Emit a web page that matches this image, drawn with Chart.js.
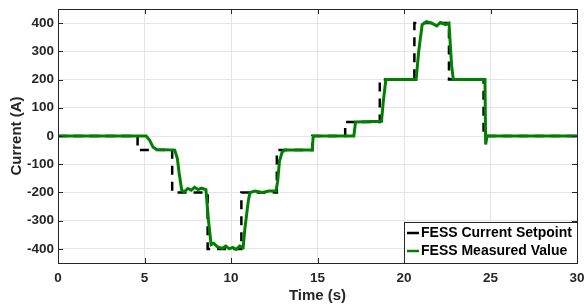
<!DOCTYPE html>
<html>
<head>
<meta charset="utf-8">
<script src="https://cdn.jsdelivr.net/npm/chart.js@4.4.1/dist/chart.umd.min.js"></script>
<style>
  html, body { margin:0; padding:0; background:#fff; }
  #wrap { width:584px; height:305px; position:relative; }
</style>
</head>
<body>
<div id="wrap"><canvas id="c"></canvas></div>
<script>
// ---- data ----
const xTicks = [0, 5, 10, 15, 20, 25, 30];
const yTicks = [-400, -300, -200, -100, 0, 100, 200, 300, 400];

// setpoint: time where each level starts, and the level
const setT = [0, 4.6, 6.6, 8.65, 10.6, 12.65, 14.7, 16.6, 18.6, 20.6, 22.6, 24.6, 30];
const setV = [0, -50, -200, -400, -200, -50, 0, 50, 200, 400, 200, 0, 0];

// measured current
const measT = [0, 5.1, 5.3, 5.5, 5.7, 6.75, 6.9, 7.0, 7.15, 7.3, 7.5, 7.7, 7.9, 8.1, 8.3, 8.55,
  8.7, 8.85, 9.0, 9.2, 9.5, 9.7, 9.9, 10.1, 10.3, 10.5, 10.7, 10.8, 11.0, 11.1, 11.4, 11.8, 12.2, 12.6,
  12.7, 12.8, 12.95, 13.1, 14.7, 14.75, 17.1, 17.2, 18.7, 18.8, 18.95, 20.7, 20.85, 21.05, 21.3,
  21.6, 21.9, 22.1, 22.4, 22.6, 22.75, 22.85, 24.68, 24.72, 24.8, 30];
const measV = [0, 0, -15, -40, -48, -50, -80, -130, -192, -198, -186, -192, -182, -190, -185, -190,
  -300, -385, -380, -392, -398, -390, -400, -395, -402, -390, -395, -330, -230, -200, -195, -200, -195, -195,
  -160, -90, -58, -50, -50, 0, 0, 50, 52, 120, 200, 200, 300, 395, 405,
  400, 390, 402, 395, 400, 250, 200, 200, -30, 0, 0];

const labels = ['FESS Current Setpoint', 'FESS Measured Value'];
const FONT = '"Liberation Sans", Arial, Helvetica, sans-serif';
const INK = '#262626';

const pts = (t, v) => t.map((x, i) => ({ x, y: v[i] }));

// inward tick marks on all four sides (MATLAB style)
const boxTicks = {
  id: 'boxTicks',
  afterDraw(chart) {
    const { ctx, chartArea: a, scales: { x, y } } = chart;
    ctx.save();
    ctx.strokeStyle = INK; ctx.lineWidth = 1;
    ctx.beginPath();
    xTicks.forEach(v => {
      const px = Math.round(x.getPixelForValue(v)) + 0.5;
      ctx.moveTo(px, a.bottom); ctx.lineTo(px, a.bottom - 5);
      ctx.moveTo(px, a.top); ctx.lineTo(px, a.top + 5);
    });
    yTicks.forEach(v => {
      const py = Math.round(y.getPixelForValue(v)) + 0.5;
      ctx.moveTo(a.left, py); ctx.lineTo(a.left + 5, py);
      ctx.moveTo(a.right, py); ctx.lineTo(a.right - 5, py);
    });
    ctx.stroke();
    ctx.strokeRect(Math.round(a.left) + 0.5, Math.round(a.top) + 0.5, Math.round(a.right - a.left), Math.round(a.bottom - a.top));
    ctx.restore();
  }
};

// legend box inside bottom-right corner
const boxLegend = {
  id: 'boxLegend',
  afterDraw(chart) {
    const { ctx, chartArea: a } = chart;
    const w = 173, h = 41;
    const x0 = Math.round(a.right) - w, y0 = Math.round(a.bottom) - h;
    ctx.save();
    ctx.fillStyle = '#fff';
    ctx.fillRect(x0, y0, w, h);
    ctx.strokeStyle = INK; ctx.lineWidth = 1;
    ctx.strokeRect(x0 + 0.5, y0 + 0.5, w, h);
    ctx.font = 'bold 14px ' + FONT;
    ctx.textBaseline = 'middle';
    chart.data.datasets.forEach((ds, i) => {
      const cy = y0 + 11 + i * 18;
      ctx.strokeStyle = ds.borderColor; ctx.lineWidth = 2.5;
      ctx.setLineDash([]);
      ctx.beginPath(); ctx.moveTo(x0 + 3, cy); ctx.lineTo(x0 + 15, cy); ctx.stroke();
      ctx.fillStyle = '#000';
      ctx.fillText(ds.label, x0 + 17, cy);
    });
    ctx.restore();
  }
};

new Chart(document.getElementById('c'), {
  type: 'line',
  data: {
    datasets: [
      { label: labels[0], data: pts(setT, setV), stepped: 'before', borderColor: '#000', borderWidth: 2.5,
        borderDash: [9, 7], pointRadius: 0, fill: false, order: 2 },
      { label: labels[1], data: pts(measT, measV), borderColor: '#008000', borderWidth: 3, tension: 0,
        pointRadius: 0, fill: false, order: 1 }
    ]
  },
  options: {
    responsive: true, maintainAspectRatio: false, animation: false,
    layout: { padding: { top: 9, right: 7, left: 0, bottom: 0 } },
    plugins: { legend: { display: false }, tooltip: { enabled: false } },
    scales: {
      x: {
        type: 'linear', min: 0, max: 30,
        afterBuildTicks: s => { s.ticks = xTicks.map(v => ({ value: v })); },
        afterFit: s => { s.height = 42; s.paddingLeft = 0; s.paddingRight = 0; },
        grid: { color: '#e5e5e5', drawTicks: false },
        border: { display: false },
        ticks: { color: INK, padding: 7, maxRotation: 0, font: { family: FONT, size: 13.5, weight: 'bold' } },
        title: { display: true, text: 'Time (s)', color: INK, padding: 0,
          font: { family: FONT, size: 15, weight: 'bold' } }
      },
      y: {
        min: -450, max: 450,
        afterBuildTicks: s => { s.ticks = yTicks.map(v => ({ value: v })); },
        afterFit: s => { s.width = 58; s.paddingTop = 0; s.paddingBottom = 0; },
        grid: { color: '#e5e5e5', drawTicks: false },
        border: { display: false },
        ticks: { color: INK, padding: 4, font: { family: FONT, size: 13.5, weight: 'bold' } },
        title: { display: true, text: 'Current (A)', color: INK, padding: 8,
          font: { family: FONT, size: 15, weight: 'bold' } }
      }
    }
  },
  plugins: [boxTicks, boxLegend]
});
</script>
</body>
</html>
